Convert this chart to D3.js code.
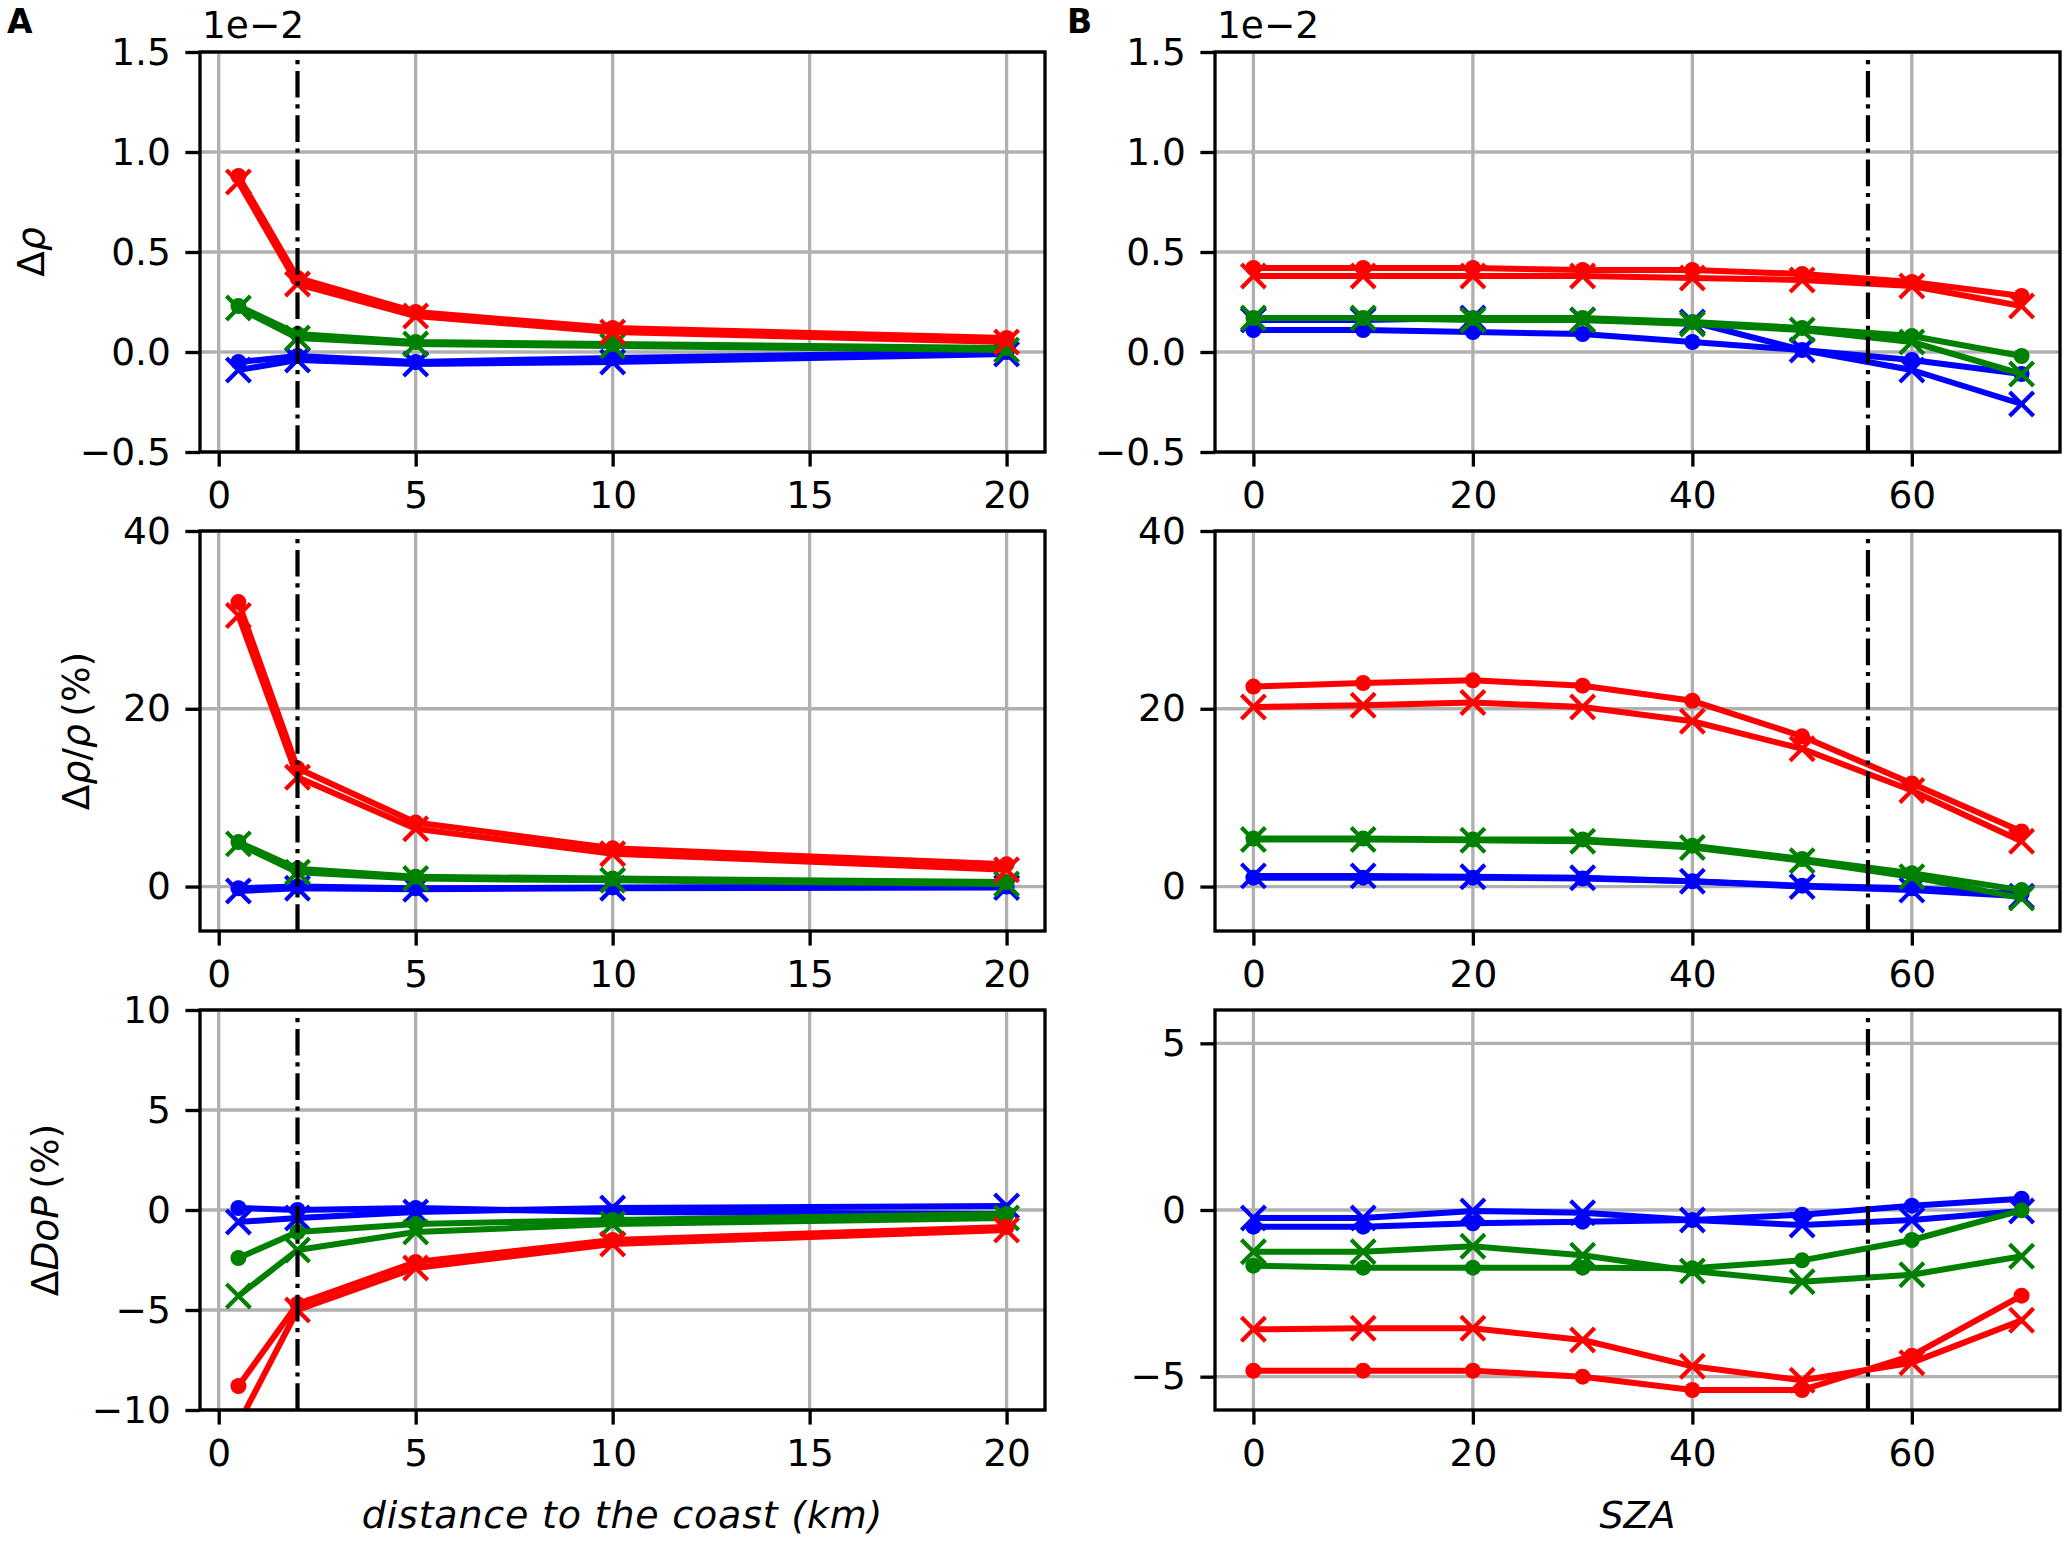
<!DOCTYPE html>
<html>
<head>
<meta charset="utf-8">
<script src="https://cdn.jsdelivr.net/npm/d3@7"></script>
<style>
  body { margin: 0; background: #fff; }
  text { font-family: "DejaVu Sans", sans-serif; }
</style>
</head>
<body>
<div id="chart"></div>
<script>
// x values
const distKm = [0.5, 2, 5, 10, 20];
const szaDeg = [0, 10, 20, 30, 40, 50, 60, 70];

// row 1: delta rho (units of 1e-2)
const rhoDistRedDot   = [0.88, 0.37, 0.20, 0.12, 0.07];
const rhoDistRedX     = [0.85, 0.34, 0.18, 0.10, 0.05];
const rhoDistGreenDot = [0.23, 0.09, 0.05, 0.04, 0.02];
const rhoDistGreenX   = [0.22, 0.07, 0.04, 0.03, 0.01];
const rhoDistBlueDot  = [-0.05, -0.02, -0.05, -0.03, 0.00];
const rhoDistBlueX    = [-0.09, -0.04, -0.06, -0.05, -0.01];

const rhoSzaRedDot   = [0.42, 0.42, 0.42, 0.41, 0.41, 0.39, 0.35, 0.28];
const rhoSzaRedX     = [0.38, 0.38, 0.38, 0.38, 0.37, 0.36, 0.33, 0.23];
const rhoSzaGreenDot = [0.17, 0.17, 0.17, 0.17, 0.15, 0.12, 0.08, -0.02];
const rhoSzaGreenX   = [0.17, 0.17, 0.16, 0.16, 0.14, 0.11, 0.05, -0.11];
const rhoSzaBlueDot  = [0.11, 0.11, 0.10, 0.09, 0.05, 0.01, -0.04, -0.11];
const rhoSzaBlueX    = [0.16, 0.16, 0.17, 0.16, 0.15, 0.01, -0.09, -0.26];

// row 2: delta rho / rho (%)
const relDistRedDot   = [32.0, 13.3, 7.2, 4.3, 2.5];
const relDistRedX     = [30.5, 12.3, 6.5, 3.7, 1.9];
const relDistGreenDot = [5.0, 2.0, 1.1, 0.9, 0.5];
const relDistGreenX   = [4.8, 1.6, 0.9, 0.7, 0.3];
const relDistBlueDot  = [-0.2, 0.0, -0.2, -0.1, 0.0];
const relDistBlueX    = [-0.5, -0.2, -0.3, -0.2, -0.1];

const relSzaRedDot   = [22.5, 22.9, 23.2, 22.6, 20.9, 16.9, 11.6, 6.2];
const relSzaRedX     = [20.2, 20.4, 20.7, 20.2, 18.6, 15.5, 10.8, 5.1];
const relSzaGreenDot = [5.4, 5.4, 5.3, 5.3, 4.6, 3.1, 1.5, -0.4];
const relSzaGreenX   = [5.3, 5.3, 5.2, 5.1, 4.4, 2.9, 1.1, -1.3];
const relSzaBlueDot  = [1.0, 1.0, 1.0, 0.9, 0.6, 0.1, -0.2, -0.8];
const relSzaBlueX    = [1.2, 1.2, 1.1, 1.0, 0.6, 0.0, -0.4, -1.1];

// row 3: delta DoP (%)
const dopDistRedDot   = [-8.8, -4.7, -2.6, -1.5, -0.85];
const dopDistRedX     = [-10.7, -5.0, -2.9, -1.7, -1.0];
const dopDistGreenDot = [-2.4, -1.1, -0.7, -0.5, -0.2];
const dopDistGreenX   = [-4.3, -2.0, -1.1, -0.7, -0.4];
const dopDistBlueDot  = [0.1, 0.0, 0.1, -0.1, -0.2];
const dopDistBlueX    = [-0.6, -0.4, -0.1, 0.1, 0.2];

const dopSzaRedDot   = [-4.82, -4.82, -4.82, -5.0, -5.4, -5.4, -4.37, -2.57];
const dopSzaRedX     = [-3.58, -3.55, -3.55, -3.9, -4.69, -5.11, -4.58, -3.31];
const dopSzaGreenDot = [-1.67, -1.73, -1.73, -1.73, -1.75, -1.51, -0.9, -0.01];
const dopSzaGreenX   = [-1.25, -1.25, -1.09, -1.36, -1.83, -2.15, -1.94, -1.39];
const dopSzaBlueDot  = [-0.5, -0.5, -0.4, -0.35, -0.3, -0.14, 0.13, 0.34];
const dopSzaBlueX    = [-0.24, -0.24, -0.03, -0.08, -0.3, -0.45, -0.3, -0.03];

// ticks
const distTicks = [0, 5, 10, 15, 20];
const szaTicks = [0, 20, 40, 60];
const rhoTicks = [-0.5, 0.0, 0.5, 1.0, 1.5];
const relTicks = [0, 20, 40];
const dopDistTicks = [-10, -5, 0, 5, 10];
const dopSzaTicks = [-5, 0, 5];

const distLimit = 2;   // vertical dash-dot marks
const szaLimit = 56;

const W = 2070, H = 1542;
const fs = 37.5, lw = 3.33, tickLen = 14.6;

const cols = [{x0: 200, x1: 1045}, {x0: 1215, x1: 2060}];
const rows = [{y0: 52, y1: 452}, {y0: 531, y1: 931}, {y0: 1010, y1: 1410}];

function seriesSet(redDot, redX, greenDot, greenX, blueDot, blueX) {
    return [
        {color: "#0000ff", marker: "o", v: blueDot},
        {color: "#0000ff", marker: "x", v: blueX},
        {color: "#008000", marker: "o", v: greenDot},
        {color: "#008000", marker: "x", v: greenX},
        {color: "#ff0000", marker: "o", v: redDot},
        {color: "#ff0000", marker: "x", v: redX}
    ];
}

const panels = [
    {col: 0, row: 0, xs: distKm, xDom: [-0.475, 20.975], xTicks: distTicks, yDom: [-0.5, 1.5], yTicks: rhoTicks,
     yFmt: d3.format(".1f"), vline: distLimit, offset: true,
     series: seriesSet(rhoDistRedDot, rhoDistRedX, rhoDistGreenDot, rhoDistGreenX, rhoDistBlueDot, rhoDistBlueX)},
    {col: 1, row: 0, xs: szaDeg, xDom: [-3.5, 73.5], xTicks: szaTicks, yDom: [-0.5, 1.5], yTicks: rhoTicks,
     yFmt: d3.format(".1f"), vline: szaLimit, offset: true,
     series: seriesSet(rhoSzaRedDot, rhoSzaRedX, rhoSzaGreenDot, rhoSzaGreenX, rhoSzaBlueDot, rhoSzaBlueX)},
    {col: 0, row: 1, xs: distKm, xDom: [-0.475, 20.975], xTicks: distTicks, yDom: [-5, 40], yTicks: relTicks,
     yFmt: d3.format("d"), vline: distLimit,
     series: seriesSet(relDistRedDot, relDistRedX, relDistGreenDot, relDistGreenX, relDistBlueDot, relDistBlueX)},
    {col: 1, row: 1, xs: szaDeg, xDom: [-3.5, 73.5], xTicks: szaTicks, yDom: [-5, 40], yTicks: relTicks,
     yFmt: d3.format("d"), vline: szaLimit,
     series: seriesSet(relSzaRedDot, relSzaRedX, relSzaGreenDot, relSzaGreenX, relSzaBlueDot, relSzaBlueX)},
    {col: 0, row: 2, xs: distKm, xDom: [-0.475, 20.975], xTicks: distTicks, yDom: [-10, 10], yTicks: dopDistTicks,
     yFmt: d3.format("d"), vline: distLimit,
     series: seriesSet(dopDistRedDot, dopDistRedX, dopDistGreenDot, dopDistGreenX, dopDistBlueDot, dopDistBlueX)},
    {col: 1, row: 2, xs: szaDeg, xDom: [-3.5, 73.5], xTicks: szaTicks, yDom: [-6, 6], yTicks: dopSzaTicks,
     yFmt: d3.format("d"), vline: szaLimit,
     series: seriesSet(dopSzaRedDot, dopSzaRedX, dopSzaGreenDot, dopSzaGreenX, dopSzaBlueDot, dopSzaBlueX)}
];

const svg = d3.select("#chart").append("svg")
    .attr("width", W)
    .attr("height", H)
    .style("background", "#fff");

panels.forEach(function(p, i) {
    const c = cols[p.col], r = rows[p.row];
    const x = d3.scaleLinear().domain(p.xDom).range([c.x0, c.x1]);
    const y = d3.scaleLinear().domain(p.yDom).range([r.y1, r.y0]);

    const clipId = "clip" + i;
    svg.append("clipPath").attr("id", clipId)
      .append("rect")
        .attr("x", c.x0).attr("y", r.y0)
        .attr("width", c.x1 - c.x0).attr("height", r.y1 - r.y0);

    const g = svg.append("g");

    // grid
    g.selectAll(".gx").data(p.xTicks).enter().append("line")
        .attr("x1", d => x(d)).attr("x2", d => x(d))
        .attr("y1", r.y0).attr("y2", r.y1)
        .attr("stroke", "#b0b0b0").attr("stroke-width", lw);
    g.selectAll(".gy").data(p.yTicks).enter().append("line")
        .attr("x1", c.x0).attr("x2", c.x1)
        .attr("y1", d => y(d)).attr("y2", d => y(d))
        .attr("stroke", "#b0b0b0").attr("stroke-width", lw);

    // data
    const plot = g.append("g").attr("clip-path", "url(#" + clipId + ")");
    const line = d3.line().x(d => x(d[0])).y(d => y(d[1]));
    p.series.forEach(function(s) {
        const pts = p.xs.map((xv, k) => [xv, s.v[k]]);
        plot.append("path")
            .attr("d", line(pts))
            .attr("fill", "none")
            .attr("stroke", s.color)
            .attr("stroke-width", 6)
            .attr("stroke-linejoin", "round");
        if (s.marker === "o") {
            plot.selectAll(null).data(pts).enter().append("circle")
                .attr("cx", d => x(d[0])).attr("cy", d => y(d[1]))
                .attr("r", 8)
                .attr("fill", s.color);
        } else {
            const h = 12;
            plot.selectAll(null).data(pts).enter().append("path")
                .attr("d", d => {
                    const px = x(d[0]), py = y(d[1]);
                    return "M" + (px - h) + "," + (py - h) + "L" + (px + h) + "," + (py + h) +
                           "M" + (px - h) + "," + (py + h) + "L" + (px + h) + "," + (py - h);
                })
                .attr("stroke", s.color)
                .attr("stroke-width", 4.2)
                .attr("fill", "none");
        }
    });

    // dash-dot reference line, drawn from bottom up
    g.append("line")
        .attr("x1", x(p.vline)).attr("x2", x(p.vline))
        .attr("y1", r.y1).attr("y2", r.y0)
        .attr("stroke", "#000")
        .attr("stroke-width", 4.2)
        .attr("stroke-dasharray", "26.7,6.7,4.2,6.7");

    // axes
    const ax = g.append("g")
        .attr("transform", "translate(0," + r.y1 + ")")
        .call(d3.axisBottom(x).tickValues(p.xTicks).tickFormat(d3.format("d"))
              .tickSize(tickLen).tickPadding(tickLen));
    const ay = g.append("g")
        .attr("transform", "translate(" + c.x0 + ",0)")
        .call(d3.axisLeft(y).tickValues(p.yTicks).tickFormat(p.yFmt)
              .tickSize(tickLen).tickPadding(tickLen));
    [ax, ay].forEach(function(a) {
        a.select(".domain").remove();
        a.selectAll(".tick line").attr("stroke", "#000").attr("stroke-width", lw);
        a.selectAll(".tick text")
            .attr("fill", "#000")
            .style("font-size", fs + "px")
            .style("font-family", "DejaVu Sans");
    });

    // spines
    g.append("rect")
        .attr("x", c.x0).attr("y", r.y0)
        .attr("width", c.x1 - c.x0).attr("height", r.y1 - r.y0)
        .attr("fill", "none")
        .attr("stroke", "#000")
        .attr("stroke-width", lw);

    if (p.offset) {
        g.append("text")
            .attr("x", c.x0 + 2).attr("y", r.y0 - 14)
            .style("font-size", fs + "px")
            .text("1e\u22122");
    }
});

// y labels (mixed upright / italic like mathtext)
function yLabel(cx, cy, parts) {
    const t = svg.append("text")
        .attr("transform", "translate(" + cx + "," + cy + ") rotate(-90)")
        .attr("text-anchor", "middle")
        .attr("dominant-baseline", "central")
        .style("font-size", fs + "px");
    parts.forEach(function(pt) {
        t.append("tspan").text(pt[0]).style("font-style", pt[1] ? "italic" : "normal");
    });
}
yLabel(31, 252, [["\u0394", false], ["\u03c1", true]]);
yLabel(76, 731, [["\u0394", false], ["\u03c1", true], ["/", false], ["\u03c1", true], ["\u2009(%)", false]]);
yLabel(45, 1210, [["\u0394", false], ["DoP", true], ["\u2009(%)", false]]);

// x labels
svg.append("text")
    .attr("x", (cols[0].x0 + cols[0].x1) / 2).attr("y", 1528)
    .attr("text-anchor", "middle")
    .style("font-size", "38px").style("font-style", "italic")
    .style("letter-spacing", "0.8px")
    .text("distance to the coast (km)");
svg.append("text")
    .attr("x", (cols[1].x0 + cols[1].x1) / 2).attr("y", 1528)
    .attr("text-anchor", "middle")
    .style("font-size", "38px").style("font-style", "italic")
    .text("SZA");

// panel letters
svg.append("text").attr("x", 7).attr("y", 33)
    .style("font-size", "33px").style("font-weight", "bold").text("A");
svg.append("text").attr("x", 1067).attr("y", 33)
    .style("font-size", "33px").style("font-weight", "bold").text("B");
</script>
</body>
</html>
